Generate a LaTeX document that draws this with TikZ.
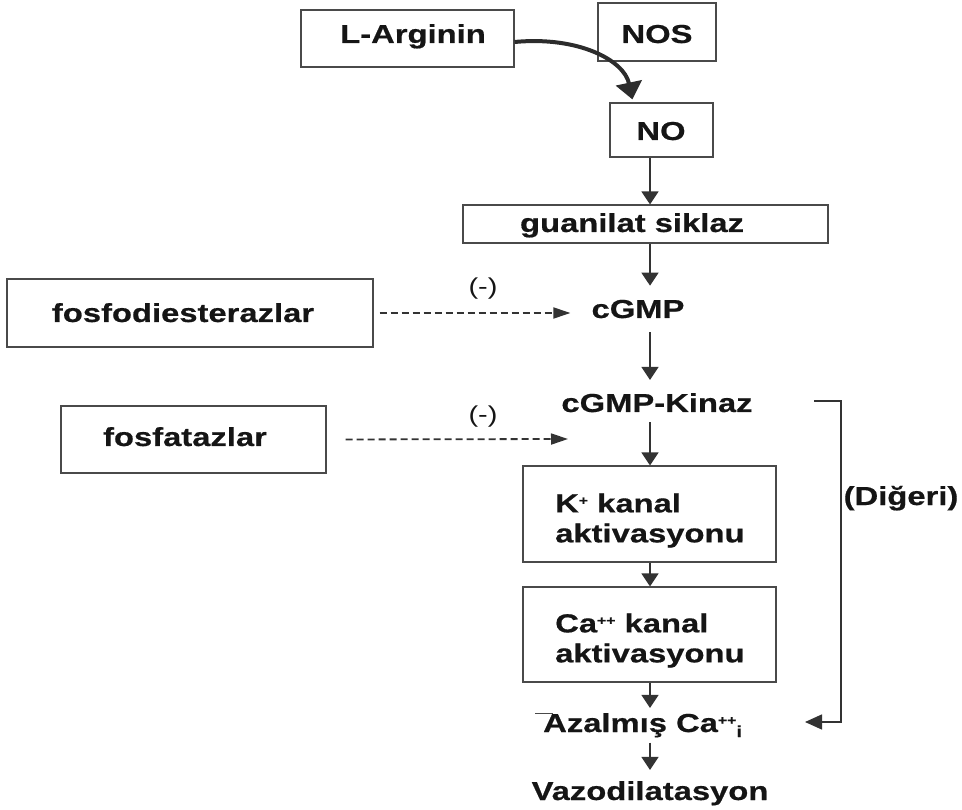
\documentclass[tikz,border=0pt]{standalone}
\usepackage{fontspec}
\setmainfont{Liberation Sans}[FakeStretch=1.26, BoldFeatures={FakeBold=0.6}]
\usetikzlibrary{arrows.meta}
\definecolor{ink}{HTML}{151515}
\definecolor{ln}{HTML}{333333}
\definecolor{bx}{HTML}{4A4A4A}
\newcommand\plus[1]{\raisebox{7.5pt}{\fontsize{12.5}{12.5}\selectfont #1}}
\newcommand\lowi[1]{\raisebox{-5pt}{\fontsize{16}{16}\selectfont #1}}
\begin{document}
\begin{tikzpicture}[x=1pt,y=-1pt,
  box/.style={draw=bx, line width=1.2pt, inner sep=0pt},
  txt/.style={font=\fontsize{26}{30}\selectfont\bfseries, text=ink, inner sep=0pt, anchor=base},
  lab/.style={font=\fontsize{23}{23}\selectfont, text=ink, inner sep=0pt},
  arr/.style={draw=ln, line width=1.5pt, -{Triangle[length=13pt,width=17pt]}},
  dsh/.style={draw=ln, line width=1.8pt, dash pattern=on 7pt off 4pt, -{Triangle[length=17pt,width=11pt]}},
  brk/.style={draw=ln, line width=1.4pt, -{Triangle[length=17pt,width=15pt]}},
  bigarr/.style={draw=ink!90, line width=4pt, -{Triangle[length=17pt,width=26pt]}}
]
\useasboundingbox (0,0) rectangle (962,810);

% boxes and texts
\node[box, minimum width=213pt, minimum height=57pt] (larg) at (407.5,38.5) {};
\node[txt] (largt) at (413,43) {L-Arginin};
\node[box, minimum width=118pt, minimum height=58pt] (nos) at (657,32) {};
\node[txt] (nost) at (657,43) {NOS};
\node[box, minimum width=103pt, minimum height=54pt] (no) at (661.5,130) {};
\node[txt] (not) at (661,140) {NO};
\node[box, minimum width=365pt, minimum height=38pt] (guan) at (645.5,224) {};
\node[txt] (guant) at (632,232) {guanilat siklaz};
\node[box, minimum width=366pt, minimum height=68pt] (fosfo) at (190,313) {};
\node[txt] (fosfot) at (183,322) {fosfodiesterazlar};
\node[box, minimum width=265pt, minimum height=67pt] (fosfat) at (193.5,439.5) {};
\node[txt] (fosfatt) at (185,446) {fosfatazlar};
\node[txt] (cgmp) at (638,318) {cGMP};
\node[txt] (kinaz) at (657,412) {cGMP-Kinaz};
\node[box, minimum width=253pt, minimum height=96pt] (kbox) at (649.5,514) {};
\node[txt, align=left, anchor=north west] (kboxt) at (555,493.3) {K\plus{+} kanal\\aktivasyonu};
\node[box, minimum width=253pt, minimum height=95pt] (cabox) at (649.5,634.5) {};
\node[txt, align=left, anchor=north west] (caboxt) at (555,613.3) {Ca\plus{++} kanal\\aktivasyonu};
\node[txt, anchor=base west, inner ysep=5pt] (azal) at (543,732) {Azalmış Ca\plus{++}\lowi{i}};
\node[txt] (vazo) at (650,800) {Vazodilatasyon};
\node[txt] (diger) at (901,505) {(Diğeri)};
\node[lab] (m1) at (483,289) {(-)};
\node[lab] (m2) at (483,417) {(-)};

% connectors
\coordinate (ax) at (650,0);
\draw[bigarr] ([yshift=-3.5pt]larg.east) .. controls (578,36) and (624,60) .. ([xshift=23pt,yshift=3pt]no.north west);
\draw[arr] (no.south -| ax) -- (guan.north -| ax);
\draw[arr, shorten >=14pt] (guan.south -| ax) -- (cgmp.north -| ax);
\draw[arr, shorten <=14pt, shorten >=13pt] (cgmp.south -| ax) -- (kinaz.north -| ax);
\draw[arr, shorten <=10pt] (kinaz.south -| ax) -- (kbox.north -| ax);
\draw[arr] (kbox.south -| ax) -- (cabox.north -| ax);
\draw[arr] (cabox.south -| ax) -- (azal.north -| ax);
\draw[arr, shorten >=11pt] (azal.south -| ax) -- (vazo.north -| ax);

\draw[dsh, shorten <=6pt, shorten >=21pt] (fosfo.east) -- (fosfo.east -| cgmp.west);
\coordinate (ph) at (568,439);
\draw[dsh, shorten <=19pt] (fosfat.east) -- (ph);

\coordinate (b1) at (814,401);
\coordinate (b2) at (805,722);
\draw[brk] (b1) -- ++(27,0) |- (b2);

\draw[bx, line width=0.8pt] (535,713) -- (553,713);
\end{tikzpicture}
\end{document}
